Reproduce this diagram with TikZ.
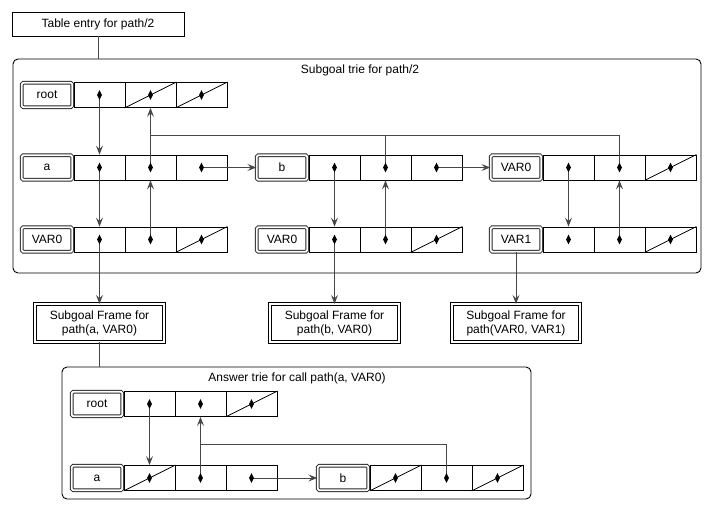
\documentclass[tikz,border=0pt]{standalone}
\usepackage{fontspec}
\setmainfont{Liberation Sans}
\usetikzlibrary{arrows.meta}

\newcommand{\trierow}[4]{%
  \node[lbl] (#1) at (#2+27,#3) {#4};
  \foreach \i in {1,2,3}
    \node[cell] (#1-\i) at (#2+28.5+51*\i,#3) {};
}
\newcommand{\ptrdot}[1]{\fill (#1) +(0,4.8) -- +(2.5,0) -- +(0,-4.8) -- +(-2.5,0) -- cycle;}

\begin{document}
\begin{tikzpicture}[x=1pt,y=-1pt,
    txt/.style={font=\fontsize{12}{14}\selectfont, inner sep=0pt},
    entrybox/.style={txt, draw, line width=0.9pt, minimum width=172pt, minimum height=24pt},
    group/.style={draw, line width=0.9pt, rounded corners=5pt},
    lbl/.style={txt, draw=black!85, line width=0.9pt, double, double distance=1.8pt,
      rounded corners=1.5pt, minimum width=50.5pt, minimum height=24.5pt},
    cell/.style={draw, line width=0.8pt, minimum width=51pt, minimum height=25pt, inner sep=0pt},
    frame/.style={txt, draw, line width=0.9pt, double, double distance=1.8pt, align=center,
      minimum width=128.5pt, minimum height=37.5pt},
    conn/.style={draw=black!72, line width=0.9pt},
    arr/.style={conn, -{Stealth[length=9pt,width=7pt,inset=3.5pt]}}]
  \useasboundingbox (0,0) rectangle (716,510);

  \node[entrybox] (entry) at (98,24) {Table entry for path/2};

  % subgoal trie
  \node[group, minimum width=688pt, minimum height=214pt] (strie) at (357,166) {};
  \node[txt] (stitle) at (360,70) {Subgoal trie for path/2};
  \trierow{sroot}{20}{95}{root}
  \trierow{sa}{20}{167.5}{a}
  \trierow{sv0}{20}{239.5}{VAR0}
  \trierow{sb}{255}{167.5}{b}
  \trierow{sbv}{255}{239.5}{VAR0}
  \trierow{sv}{489}{167.5}{VAR0}
  \trierow{sv1}{489}{239.5}{VAR1}

  % subgoal frames
  \node[frame] (f1) at (99.5,323) {Subgoal Frame for\\path(a, VAR0)};
  \node[frame] (f2) at (334.5,323) {Subgoal Frame for\\path(b, VAR0)};
  \node[frame] (f3) at (516,323) {Subgoal Frame for\\path(VAR0, VAR1)};

  % answer trie
  \node[group, minimum width=469pt, minimum height=132pt] (atrie) at (296.5,433) {};
  \node[txt] (atitle) at (297,378) {Answer trie for call path(a, VAR0)};
  \trierow{aroot}{70}{404}{root}
  \trierow{aa}{70}{478}{a}
  \trierow{ab}{316}{478}{b}

  \foreach \c in {sroot-2,sroot-3,sv0-3,sbv-3,sv-3,sv1-3,aroot-3,aa-1,ab-1,ab-3}{
    \draw[line width=0.8pt] (\c.south west) -- (\c.north east);
  }

  \coordinate (sjoin) at ([yshift=-28pt]sroot-2.south);
  \coordinate (ajoin) at ([yshift=-28pt]aroot-2.south);

  \draw[conn] (entry.south) -- (entry.south |- strie.north);
  \draw[arr] (sroot-1.center) -- (sa-1.north);
  \draw[arr] (sa-2.center) -- (sroot-2.south);
  \draw[conn] (sb-2.center) |- (sjoin);
  \draw[conn] (sv-2.center) |- (sjoin);
  \draw[arr] (sa-1.center) -- (sv0-1.north);
  \draw[arr] (sv0-2.center) -- (sa-2.south);
  \draw[arr] (sa-3.center) -- (sb.west);
  \draw[arr] (sb-1.center) -- (sbv-1.north);
  \draw[arr] (sbv-2.center) -- (sb-2.south);
  \draw[arr] (sb-3.center) -- (sv.west);
  \draw[arr] (sv-1.center) -- (sv1-1.north);
  \draw[arr] (sv1-2.center) -- (sv-2.south);
  \draw[arr] (sv0-1.center) -- (f1.north);
  \draw[arr] (sbv-1.center) -- (f2.north);
  \draw[arr] (sv1.south) -- (f3.north);
  \draw[conn] (f1.south) -- (f1.south |- atrie.north);

  \draw[arr] (aroot-1.center) -- (aa-1.north);
  \draw[arr] (aa-2.center) -- (aroot-2.south);
  \draw[conn] (ab-2.center) |- (ajoin);
  \draw[arr] (aa-3.center) -- (ab.west);

  \foreach \r in {sroot,sa,sv0,sb,sbv,sv,sv1,aroot,aa,ab}{
    \foreach \i in {1,2,3}{
      \ptrdot{\r-\i}
    }
  }
\end{tikzpicture}
\end{document}
